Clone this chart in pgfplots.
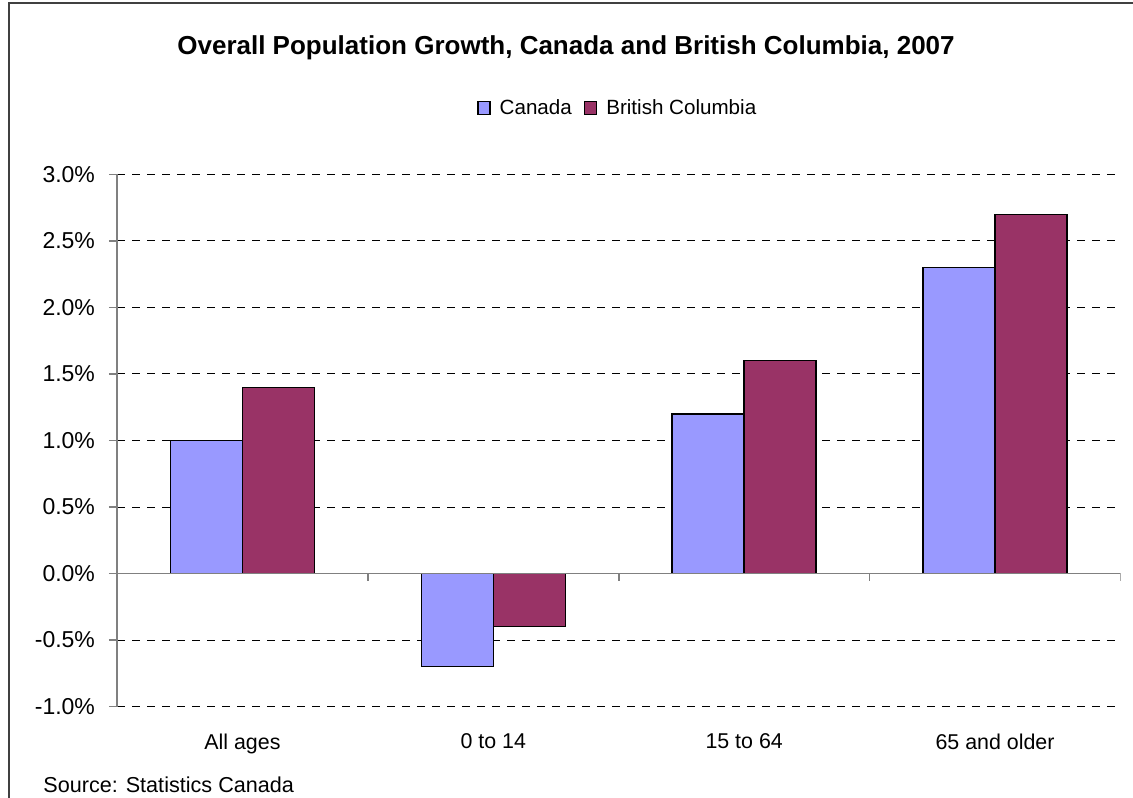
\documentclass[border=0pt]{standalone}
\usepackage{pgfplots}
\pgfplotsset{compat=1.18}
\usepackage{fontspec}
\setmainfont{Liberation Sans}
\definecolor{canada}{HTML}{9999FF}
\definecolor{bc}{HTML}{993366}
\definecolor{axgray}{HTML}{808080}

\begin{document}
\begin{tikzpicture}
\useasboundingbox (0,0) rectangle (566.5pt,398.5pt);
% outer frame (only left and top edges fall inside the picture)
\draw[line width=0.75pt, black!75] (4.5pt,-1pt) -- (4.5pt,397pt) -- (568pt,397pt);
\node[font=\bfseries\fontsize{13}{15}\selectfont] at (283pt,374.5pt)
  {Overall Population Growth, Canada and British Columbia, 2007};
\node[anchor=west, inner sep=0pt, font=\fontsize{10.8}{13}\selectfont] at (21.5pt,6pt)
  {Source: Statistics Canada};
\begin{axis}[
    at={(58.5pt,45.25pt)}, anchor=south west,
    scale only axis, width=501.75pt, height=266pt,
    ybar=0pt, bar width=36pt,
    xmin=-0.5, xmax=3.5, ymin=-1, ymax=3,
    ytick={-1,-0.5,0,0.5,1,1.5,2,2.5,3},
    xtick={0,1,2,3},
    xticklabels={All ages,0 to 14,15 to 64,65 and older},
    axis y line=left, axis x line=bottom,
    x axis line style={draw=none},
    y axis line style={axgray, -, line width=0.75pt},
    ytick style={axgray, line width=0.75pt},
    xtick style={draw=none},
    tick align=outside, major tick length=4pt,
    ymajorgrids,
    grid style={black, line width=0.5pt, dash pattern=on 4pt off 3.5pt},
    /pgf/number format/assume math mode=true,
    yticklabel={\pgfmathprintnumber[fixed,fixed zerofill,precision=1]{\tick}\%},
    yticklabel style={font=\fontsize{11.5}{14}\selectfont, xshift=-3.5pt},
    xticklabel style={font=\fontsize{10.7}{13}\selectfont, yshift=-6pt},
    legend style={draw=none, at={(0.5,1.124)}, anchor=center,
      font=\fontsize{10.3}{12}\selectfont,
      /tikz/every even column/.append style={column sep=4pt}},
    legend columns=2,
    legend image code/.code={\draw[#1, line width=0.7pt] (0pt,-3pt) rectangle (6pt,3.5pt);
      \path (8.5pt,0pt);},
]
\addplot[fill=canada, draw=black, line width=0.75pt]
  coordinates {(0,1.0) (1,-0.7) (2,1.2) (3,2.3)};
\addplot[fill=bc, draw=black, line width=0.75pt]
  coordinates {(0,1.4) (1,-0.4) (2,1.6) (3,2.7)};
\legend{Canada, British Columbia}
% category axis at zero with ticks between groups
\draw[axgray, line width=0.75pt] (axis cs:-0.5,0) -- (axis cs:3.5,0);
\draw[axgray, line width=0.75pt] (axis cs:0.5,0) -- ([yshift=-3.5pt]axis cs:0.5,0);
\draw[axgray, line width=0.75pt] (axis cs:1.5,0) -- ([yshift=-3.5pt]axis cs:1.5,0);
\draw[axgray, line width=0.75pt] (axis cs:2.5,0) -- ([yshift=-3.5pt]axis cs:2.5,0);
\draw[axgray, line width=0.75pt] (axis cs:3.5,0) -- ([yshift=-3.5pt]axis cs:3.5,0);
\end{axis}
\end{tikzpicture}
\end{document}
